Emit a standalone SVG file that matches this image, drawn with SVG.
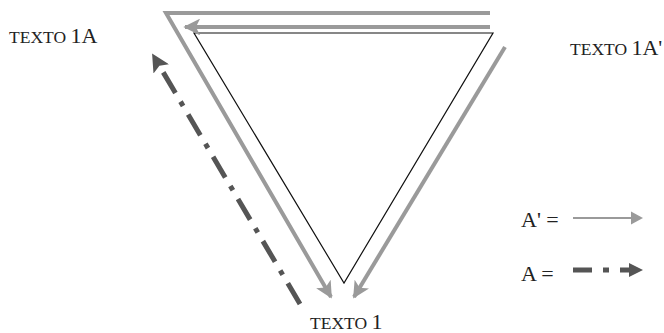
<svg xmlns="http://www.w3.org/2000/svg" width="664" height="333" viewBox="0 0 664 333">
<defs>
<marker id="ag" viewBox="0 0 10 10" refX="9" refY="5" markerWidth="4.2" markerHeight="4.2" markerUnits="strokeWidth" orient="auto">
<path d="M0,0 L10,5 L0,10 L2.5,5 Z" fill="#9a9a9a"/>
</marker>
<marker id="ad" viewBox="0 0 10 10" refX="9" refY="5" markerWidth="3.6" markerHeight="3.6" markerUnits="strokeWidth" orient="auto">
<path d="M0,0 L10,5 L0,10 L2,5 Z" fill="#555"/>
</marker>
<style>
.g{fill:none;stroke:#9a9a9a;stroke-width:4}
.d{fill:none;stroke:#555;stroke-width:5;stroke-dasharray:24 10 5 10}
.t{font-family:"Liberation Serif",serif;fill:#222}
.sc{font-size:17.5px}
.bg{font-size:22px}
</style>
</defs>
<g id="triangle">
<path d="M194,33 L493,33 L344,283 Z" fill="none" stroke="#111" stroke-width="1.2"/>
</g>
<g id="connectors">
<path class="g" d="M490,13 L166,13 L331,297" marker-end="url(#ag)"/>
<path class="g" d="M490,27 L185,27" marker-end="url(#ag)"/>
<path class="g" d="M505,47 L354,297" marker-end="url(#ag)"/>
<path class="d" d="M300,304 L153,55" marker-end="url(#ad)"/>
</g>
<g id="label-1A">
<text class="t" x="9" y="43"><tspan class="sc">TEXTO </tspan><tspan class="bg">1A</tspan></text>
</g>
<g id="label-1Ap">
<text class="t" x="570" y="55"><tspan class="sc">TEXTO </tspan><tspan class="bg">1A'</tspan></text>
</g>
<g id="label-1">
<text class="t" x="310" y="329"><tspan class="sc">TEXTO </tspan><tspan class="bg">1</tspan></text>
</g>
<g id="legend">
<text class="t bg" x="521" y="227">A' =</text>
<path d="M573,218 L633,218" stroke="#9a9a9a" stroke-width="2.2" fill="none"/>
<path d="M631,211.5 L643,218 L631,224.5 Z" fill="#9a9a9a"/>
<text class="t bg" x="521" y="281">A =</text>
<path d="M573,270 L592,270 M603,270 L609,270 M620,270 L632,270" stroke="#555" stroke-width="5" fill="none"/>
<path d="M629,263 L643,270 L629,277 Z" fill="#555"/>
</g>
</svg>
